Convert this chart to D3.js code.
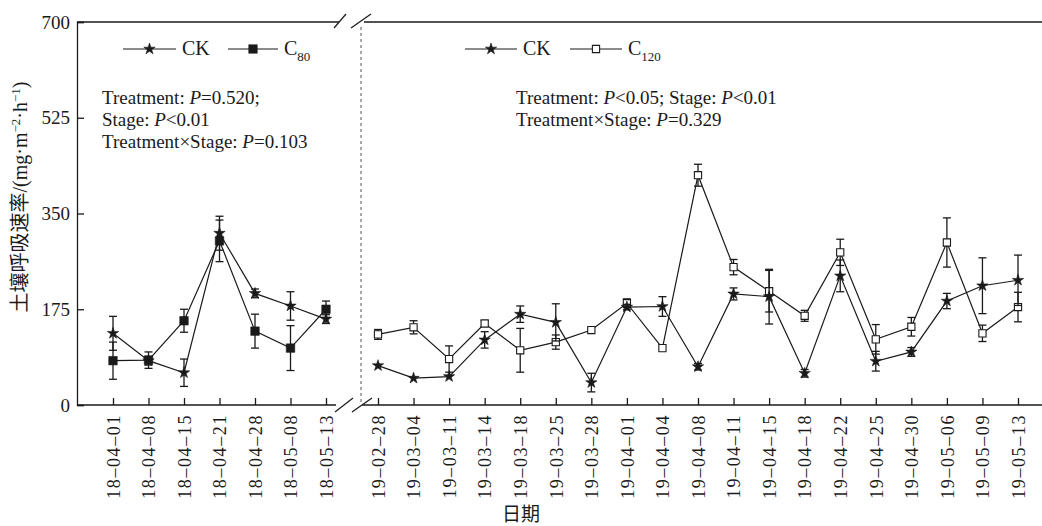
<!DOCTYPE html>
<html>
<head>
<meta charset="utf-8">
<script src="https://d3js.org/d3.v7.min.js"></script>
<style>
  body { margin: 0; background: #fff; }
  text { font-family: "Liberation Serif", "Times New Roman", "Noto Sans CJK SC", serif; fill: #1a1a1a; }
  .cjk { font-family: "Noto Sans CJK SC", sans-serif; }
</style>
</head>
<body>
<div id="chart"></div>
<script>
// 2018 period (CK vs C80)
const leftDates = ["18-04-01", "18-04-08", "18-04-15", "18-04-21", "18-04-28", "18-05-08", "18-05-13"];
const leftCK = [131, 81, 59, 314, 204, 181, 157];
const leftCKErr = [31, 8, 25, 31, 8, 26, 8];
const leftC80 = [81, 82, 154, 300, 135, 104, 175];
const leftC80Err = [34, 15, 21, 38, 31, 41, 15];

// 2019 period (CK vs C120)
const rightDates = ["19-02-28", "19-03-04", "19-03-11", "19-03-14", "19-03-18", "19-03-25", "19-03-28",
  "19-04-01", "19-04-04", "19-04-08", "19-04-11", "19-04-15", "19-04-18", "19-04-22", "19-04-25",
  "19-04-30", "19-05-06", "19-05-09", "19-05-13"];
const rightCK = [72, 49, 52, 119, 166, 151, 41, 179, 180, 70, 203, 198, 58, 236, 80, 97, 190, 218, 228];
const rightCKErr = [0, 0, 0, 15, 15, 34, 17, 5, 18, 6, 11, 50, 7, 29, 18, 8, 14, 51, 46];
const rightC120 = [129, 142, 84, 149, 100, 115, 137, 186, 104, 420, 252, 208, 163, 279, 120, 143, 297, 131, 179];
const rightC120Err = [9, 12, 24, 5, 40, 13, 0, 8, 0, 20, 14, 38, 10, 24, 27, 17, 45, 15, 27];

const yTicks = [0, 175, 350, 525, 700];

const width = 1042, height = 526;
const ink = "#1a1a1a";
const svg = d3.select("#chart").append("svg")
  .attr("width", width)
  .attr("height", height);

const y = d3.scaleLinear().domain([0, 700]).range([405, 22]);
const xL = d3.scalePoint().domain(leftDates).range([113, 326]);
const xR = d3.scalePoint().domain(rightDates).range([378, 1018]);

const fmt = d => d.replace(/-/g, "\u2013");

// y axis (ticks inward)
const yAxis = svg.append("g")
  .attr("transform", "translate(77,0)")
  .call(d3.axisLeft(y).tickValues(yTicks).tickSize(-7).tickPadding(7));
yAxis.selectAll("text").style("font-size", "19px").attr("fill", ink);
yAxis.selectAll("line,path").attr("stroke", ink).attr("stroke-width", 1.3);

// bottom axes
function bottomAxis(scale, x0, x1) {
  const g = svg.append("g").attr("transform", "translate(0,405)")
    .call(d3.axisBottom(scale).tickSize(-7).tickSizeOuter(0).tickFormat(fmt));
  g.select(".domain").remove();
  g.selectAll("line").attr("stroke", ink).attr("stroke-width", 1.3);
  g.selectAll("text")
    .attr("transform", "rotate(-90)")
    .attr("text-anchor", "end")
    .attr("x", -9).attr("y", 0).attr("dy", "0.35em")
    .style("font-size", "18px")
    .style("letter-spacing", "1.6px")
    .attr("fill", ink);
  g.append("line").attr("x1", x0).attr("x2", x1).attr("y1", 0).attr("y2", 0)
    .attr("stroke", ink).attr("stroke-width", 1.3);
}
bottomAxis(xL, 77, 336);
bottomAxis(xR, 362, 1042);

// top frame
svg.append("line").attr("x1", 77).attr("x2", 339).attr("y1", 22).attr("y2", 22)
  .attr("stroke", ink).attr("stroke-width", 1.3);
svg.append("line").attr("x1", 364).attr("x2", 1042).attr("y1", 22).attr("y2", 22)
  .attr("stroke", ink).attr("stroke-width", 1.3);

// break marks
[[334, 346], [351, 371]].forEach(([a, b]) => {
  svg.append("line").attr("x1", a).attr("y1", 28).attr("x2", b).attr("y2", 14)
    .attr("stroke", ink).attr("stroke-width", 1.2);
});
[[335, 353], [352, 372]].forEach(([a, b]) => {
  svg.append("line").attr("x1", a).attr("y1", 412).attr("x2", b).attr("y2", 398)
    .attr("stroke", ink).attr("stroke-width", 1.2);
});
svg.append("line").attr("x1", 361).attr("x2", 361).attr("y1", 27).attr("y2", 405)
  .attr("stroke", "#555").attr("stroke-width", 1).attr("stroke-dasharray", "3,3");

// series drawing
const star = d3.symbol().type(d3.symbolStar).size(40);
const sqFill = d3.symbol().type(d3.symbolSquare).size(72);
const sqOpen = d3.symbol().type(d3.symbolSquare).size(52);

function drawSeries(x, dates, vals, errs, sym, fill) {
  const pts = dates.map((d, i) => ({ d, v: vals[i], e: errs[i] }));
  const g = svg.append("g");
  g.append("path").datum(pts)
    .attr("fill", "none").attr("stroke", ink).attr("stroke-width", 1.2)
    .attr("d", d3.line().x(p => x(p.d)).y(p => y(p.v)));
  const eb = g.selectAll(".eb").data(pts.filter(p => p.e > 0)).enter().append("g")
    .attr("stroke", ink).attr("stroke-width", 1.3);
  eb.append("line").attr("x1", p => x(p.d)).attr("x2", p => x(p.d))
    .attr("y1", p => y(p.v - p.e)).attr("y2", p => y(p.v + p.e));
  eb.append("line").attr("x1", p => x(p.d) - 4).attr("x2", p => x(p.d) + 4)
    .attr("y1", p => y(p.v + p.e)).attr("y2", p => y(p.v + p.e));
  eb.append("line").attr("x1", p => x(p.d) - 4).attr("x2", p => x(p.d) + 4)
    .attr("y1", p => y(p.v - p.e)).attr("y2", p => y(p.v - p.e));
  g.selectAll(".mk").data(pts).enter().append("path")
    .attr("transform", p => `translate(${x(p.d)},${y(p.v)})`)
    .attr("d", sym)
    .attr("fill", fill).attr("stroke", ink).attr("stroke-width", fill === "#fff" ? 1.1 : 0.6);
}
drawSeries(xL, leftDates, leftC80, leftC80Err, sqFill, ink);
drawSeries(xL, leftDates, leftCK, leftCKErr, star, ink);
drawSeries(xR, rightDates, rightC120, rightC120Err, sqOpen, "#fff");
drawSeries(xR, rightDates, rightCK, rightCKErr, star, ink);

// legends
function legendItem(x0, x1, yy, sym, fill, label, sub) {
  svg.append("line").attr("x1", x0).attr("x2", x1).attr("y1", yy).attr("y2", yy)
    .attr("stroke", ink).attr("stroke-width", 1.2);
  svg.append("path").attr("transform", `translate(${(x0 + x1) / 2},${yy})`).attr("d", sym)
    .attr("fill", fill).attr("stroke", ink).attr("stroke-width", fill === "#fff" ? 1.1 : 0.6);
  const t = svg.append("text").attr("x", x1 + 6).attr("y", yy + 6).style("font-size", "20px").text(label);
  if (sub) t.append("tspan").attr("dy", 6).style("font-size", "13px").text(sub);
}
legendItem(123, 176, 49, star, ink, "CK");
legendItem(228, 278, 49, sqFill, ink, "C", "80");
legendItem(465, 517, 49, star, ink, "CK");
legendItem(570, 622, 49, sqOpen, "#fff", "C", "120");

// statistics annotations
function statLine(x0, yy, parts) {
  const t = svg.append("text").attr("x", x0).attr("y", yy).style("font-size", "19px");
  parts.forEach(p => {
    t.append("tspan").style("font-style", p[1] ? "italic" : "normal").text(p[0]);
  });
}
statLine(102, 104, [["Treatment: "], ["P", 1], ["=0.520;"]]);
statLine(102, 126, [["Stage: "], ["P", 1], ["<0.01"]]);
statLine(102, 148, [["Treatment\u00d7Stage: "], ["P", 1], ["=0.103"]]);
statLine(516, 104, [["Treatment: "], ["P", 1], ["<0.05; Stage: "], ["P", 1], ["<0.01"]]);
statLine(516, 126, [["Treatment\u00d7Stage: "], ["P", 1], ["=0.329"]]);

// axis titles
const yl = svg.append("text")
  .attr("transform", "translate(27,197) rotate(-90)")
  .attr("text-anchor", "middle")
  .style("font-size", "20px");
yl.append("tspan").attr("class", "cjk").text("土壤呼吸速率");
yl.append("tspan").text("/(mg\u00b7m");
yl.append("tspan").attr("dy", -7).style("font-size", "13px").text("\u22122");
yl.append("tspan").attr("dy", 7).text("\u00b7h");
yl.append("tspan").attr("dy", -7).style("font-size", "13px").text("\u22121");
yl.append("tspan").attr("dy", 7).text(")");

svg.append("text").attr("class", "cjk")
  .attr("x", 521).attr("y", 521)
  .attr("text-anchor", "middle")
  .style("font-size", "19px")
  .text("日期");
</script>
</body>
</html>
